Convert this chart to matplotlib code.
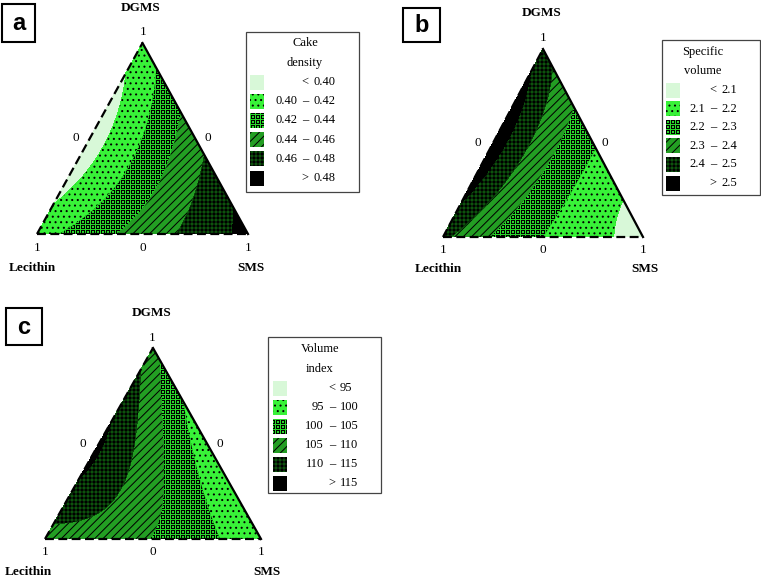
import numpy as np
import matplotlib
matplotlib.use('Agg')
import matplotlib.pyplot as plt
import matplotlib.hatch as mhatch
from matplotlib.path import Path
from matplotlib.patches import Rectangle

# points: (SMS, DGMS, response); Lecithin = 1 - SMS - DGMS
density_pts = [
    (0.108, 0.0, 0.42), (0.384, 0.0, 0.44), (0.66, 0.0, 0.46), (0.93, 0.0, 0.48),
    (0.574, 0.426, 0.46), (0.35, 0.65, 0.44), (0.15, 0.85, 0.42),
    (0.0, 0.17, 0.40), (0.0, 0.81, 0.40),
    (0.10, 0.50, 0.40), (0.25, 0.50, 0.42), (0.43, 0.50, 0.44),
    (0.05, 0.244, 0.40), (0.238, 0.244, 0.42), (0.428, 0.244, 0.44), (0.641, 0.244, 0.46),
    (0.04, 0.765, 0.40), (0.152, 0.765, 0.42),
    (0.0, 0.0, 0.412), (1.0, 0.0, 0.486), (0.0, 1.0, 0.410),
]
density_levels = [0.40, 0.42, 0.44, 0.46, 0.48]

volume_pts = [
    (0.05, 0.0, 2.4), (0.23, 0.0, 2.3), (0.51, 0.0, 2.2), (0.867, 0.0, 2.1),
    (0.844, 0.156, 2.1), (0.56, 0.44, 2.2), (0.275, 0.725, 2.3), (0.15, 0.85, 2.4),
    (0.0, 0.19, 2.5), (0.0, 0.85, 2.5),
    (0.075, 0.494, 2.5), (0.216, 0.494, 2.4), (0.34, 0.494, 2.3), (0.464, 0.494, 2.2),
    (0.142, 0.228, 2.4), (0.29, 0.228, 2.3), (0.506, 0.228, 2.2),
    (0.03, 0.76, 2.5), (0.14, 0.76, 2.4),
    (0.0, 0.0, 2.42), (1.0, 0.0, 2.05), (0.0, 1.0, 2.44),
]
volume_levels = [2.1, 2.2, 2.3, 2.4, 2.5]

index_pts = [
    (0.492, 0.0, 105), (0.81, 0.0, 100),
    (0.31, 0.69, 100), (0.084, 0.916, 105),
    (0.0, 0.096, 110), (0.0, 0.846, 110), (0.0, 0.34, 115), (0.0, 0.654, 115),
    (0.027, 0.497, 115), (0.182, 0.497, 110), (0.298, 0.497, 105), (0.422, 0.497, 100),
    (0.227, 0.236, 110), (0.405, 0.236, 105), (0.63, 0.236, 100),
    (0.141, 0.114, 110),
    (0.058, 0.76, 110), (0.151, 0.76, 105), (0.24, 0.76, 100),
    (0.0, 0.0, 107.5), (1.0, 0.0, 97.0), (0.0, 1.0, 107.0),
]
index_levels = [95, 100, 105, 110, 115]

panel_letters = ['a', 'b', 'c']
legend_titles = [['Cake', 'density'], ['Specific', 'volume'], ['Volume', 'index']]
level_formats = ['%.2f', '%.1f', '%d']

band_colors = ['#d8f8d8', '#38f238', '#2ad62a', '#239e23', '#0d520d', '#000000']
# 'O' -> small squares, 'o' -> fine grid (custom classes below)
band_hatches = ['', '...', 'O', '////', 'o', '']


# hatch tile is 100 px at dpi 100, so pick cell sizes in whole pixels to avoid moire
class SquareHatch(mhatch.HatchPatternBase):
    def __init__(self, hatch, density):
        self.num_rows = 20 if 'O' in hatch else 0
        self.num_vertices = 8 * self.num_rows ** 2

    def set_vertices_and_codes(self, vertices, codes):
        n = self.num_rows
        a, b = 1.5 / 100, 4.5 / 100
        sq = np.array([[a, a], [b, a], [b, a], [b, b], [b, b], [a, b], [a, b], [a, a]])
        cd = np.array([Path.MOVETO, Path.LINETO] * 4)
        vparts, cparts = [], []
        for r in range(n):
            for c in range(n):
                vparts.append(sq + [c / n, r / n])
                cparts.append(cd)
        np.concatenate(vparts, out=vertices)
        np.concatenate(cparts, out=codes)


class GridHatch(mhatch.HatchPatternBase):
    def __init__(self, hatch, density):
        self.num_lines = 25 if 'o' in hatch else 0
        self.num_vertices = 4 * self.num_lines

    def set_vertices_and_codes(self, vertices, codes):
        n = self.num_lines
        vparts = []
        for i in range(n):
            t = (i + 0.5) / n
            vparts.append([[0, t], [1, t], [t, 0], [t, 1]])
        vertices[:] = np.array(vparts, dtype=float).reshape(-1, 2)
        codes[:] = [Path.MOVETO, Path.LINETO] * (2 * n)


mhatch._hatch_types = [t for t in mhatch._hatch_types
                       if t not in (mhatch.LargeCircles, mhatch.SmallCircles)] + [SquareHatch, GridHatch]

plt.rcParams['hatch.linewidth'] = 0.72
plt.rcParams['hatch.color'] = 'black'

W, H = 761, 578
fig = plt.figure(figsize=(W / 100, H / 100), dpi=100)


def basis(S, D):
    # full cubic Scheffe polynomial
    L = 1 - S - D
    return np.column_stack([L, S, D, L * S, L * D, S * D,
                            L * S * (L - S), L * D * (L - D), S * D * (S - D),
                            L * S * D])


def fit_mixture(pts):
    p = np.array(pts, dtype=float)
    coef, *_ = np.linalg.lstsq(basis(p[:, 0], p[:, 1]), p[:, 2], rcond=None)
    return coef


# ternary grid
n = 160
pts = [(i / n, j / n) for i in range(n + 1) for j in range(n + 1 - i)]
S = np.array([p[0] for p in pts])
D = np.array([p[1] for p in pts])
X = S + D / 2
Y = D

pts_all = [density_pts, volume_pts, index_pts]
levels_all = [density_levels, volume_levels, index_levels]

# layout in pixels: triangle box, text anchors, legend box
layout = [
    dict(tri=(37, 43, 248, 234), letter=(2, 4, 35, 42),
         dgms=(141, 8), top1=(143, 32), left0=(76, 138), right0=(208, 138),
         bottom_y=248, lec=(32, 268), sms=(251, 268),
         box=(246, 32, 359, 192), title_x=305, title_y=(43, 63),
         sw_x=250, row0=82, step=19.2, dash=305),
    dict(tri=(443, 49, 643, 237), letter=(403, 8, 440, 42),
         dgms=(542, 13), top1=(543, 38), left0=(478, 143), right0=(605, 143),
         bottom_y=250, lec=(438, 269), sms=(645, 269),
         box=(662, 40, 760, 195), title_x=703, title_y=(52, 71),
         sw_x=666, row0=90, step=18.6, dash=713),
    dict(tri=(45, 348, 261, 539), letter=(6, 308, 42, 345),
         dgms=(152, 313), top1=(152, 338), left0=(83, 444), right0=(220, 444),
         bottom_y=552, lec=(28, 572), sms=(267, 572),
         box=(268, 337, 381, 493), title_x=320, title_y=(349, 369),
         sw_x=273, row0=388, step=19.0, dash=332),
]

for k in range(3):
    lay = layout[k]
    x0, y0, x1, y1 = lay['tri']
    ax = fig.add_axes([x0 / W, 1 - y1 / H, (x1 - x0) / W, (y1 - y0) / H])
    ax.set_xlim(0, 1)
    ax.set_ylim(0, 1)
    ax.axis('off')

    Z = basis(S, D) @ fit_mixture(pts_all[k])
    lev = list(levels_all[k])
    lv = [min(Z.min(), lev[0]) - 1] + lev + [max(Z.max(), lev[-1]) + 1]
    ax.tricontourf(X, Y, Z, levels=lv, colors=band_colors, hatches=band_hatches)

    # triangle outline
    ax.plot([0, 0.5], [0, 1], color='black', lw=1.6, ls=(0, (4, 2)), clip_on=False)
    ax.plot([0.5, 1], [1, 0], color='black', lw=1.6, clip_on=False)
    ax.plot([0, 1], [0, 0], color='black', lw=1.6, ls=(0, (4, 2)), clip_on=False)

# overlay in pixel coordinates for labels and legends
ov = fig.add_axes([0, 0, 1, 1])
ov.set_xlim(0, W)
ov.set_ylim(H, 0)
ov.axis('off')

serif = 'Liberation Serif'
for k in range(3):
    lay = layout[k]
    x0, y0, x1, y1 = lay['tri']
    xa = (x0 + x1) / 2

    lx0, ly0, lx1, ly1 = lay['letter']
    ov.add_patch(Rectangle((lx0, ly0), lx1 - lx0, ly1 - ly0, fill=False, lw=1.5, ec='black'))
    ov.text((lx0 + lx1) / 2, (ly0 + ly1) / 2 + 1, panel_letters[k], ha='center', va='center',
            fontsize=17, fontweight='bold', family='Liberation Sans')

    ov.text(*lay['dgms'], 'DGMS', ha='center', va='center', fontsize=9.5,
            fontweight='bold', family=serif)
    ov.text(*lay['top1'], '1', ha='center', va='center', fontsize=9.5, family=serif)
    ov.text(*lay['left0'], '0', ha='center', va='center', fontsize=9.5, family=serif)
    ov.text(*lay['right0'], '0', ha='center', va='center', fontsize=9.5, family=serif)
    for xx, s in zip([x0, xa, x1], ['1', '0', '1']):
        ov.text(xx, lay['bottom_y'], s, ha='center', va='center', fontsize=9.5, family=serif)
    ov.text(*lay['lec'], 'Lecithin', ha='center', va='center', fontsize=9.5,
            fontweight='bold', family=serif)
    ov.text(*lay['sms'], 'SMS', ha='center', va='center', fontsize=9.5,
            fontweight='bold', family=serif)

    # legend
    bx0, by0, bx1, by1 = lay['box']
    ov.add_patch(Rectangle((bx0, by0), bx1 - bx0, by1 - by0, fill=False, lw=0.9, ec='#444444'))
    for ty, tt in zip(lay['title_y'], legend_titles[k]):
        ov.text(lay['title_x'], ty, tt, ha='center', va='center', fontsize=9, family=serif)
    lv = levels_all[k]
    fmt = level_formats[k]
    labels = [('', '<', fmt % lv[0])]
    for a, b in zip(lv[:-1], lv[1:]):
        labels.append((fmt % a, '\u2013', fmt % b))
    labels.append(('', '>', fmt % lv[-1]))
    for r in range(6):
        yc = lay['row0'] + r * lay['step']
        ov.add_patch(Rectangle((lay['sw_x'], yc - 7.5), 14, 15, fc=band_colors[r],
                               hatch=band_hatches[r], ec='black', lw=0))
        lo, mid, hi = labels[r]
        d = lay['dash']
        ov.text(d - 8, yc, lo, ha='right', va='center', fontsize=9, family=serif)
        ov.text(d, yc, mid, ha='center', va='center', fontsize=9, family=serif)
        ov.text(d + 8, yc, hi, ha='left', va='center', fontsize=9, family=serif)

fig.savefig('out.png', dpi=100)
